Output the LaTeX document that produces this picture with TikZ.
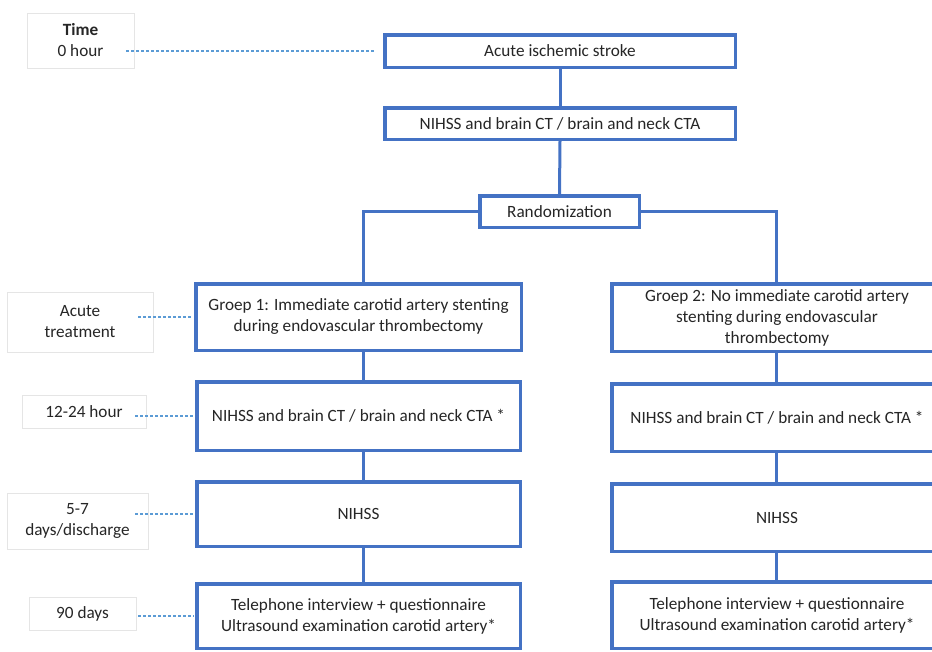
\documentclass[tikz,border=0pt]{standalone}
\usepackage{fontspec}
\setmainfont{Carlito}
\begin{document}
\begin{tikzpicture}[x=1pt,y=-1pt,
  every node/.style={inner sep=0pt, align=center, font=\fontsize{17.2}{21}\selectfont, text=black!85},
  bx/.style={draw=bblue, line width=3.5pt, fill=white, rectangle},
  tbox/.style={draw=black!10, line width=0.6pt, fill=white, rectangle},
  link/.style={draw=bblue, line width=3pt},
  tl/.style={draw=lblue, line width=1.2pt, dash pattern=on 3pt off 2pt}]
\definecolor{bblue}{RGB}{68,114,196}
\definecolor{lblue}{RGB}{91,155,213}
\useasboundingbox (0,0) rectangle (932,651);
\begin{scope}
\clip (0,0) rectangle (932,651);
% main flow boxes
\node[bx, minimum width=350.5pt, minimum height=32.5pt] (stroke) at (560,51) {Acute ischemic stroke};
\node[bx, minimum width=350.5pt, minimum height=31.5pt] (n0) at (560,123.5) {NIHSS and brain CT / brain and neck CTA};
\node[bx, minimum width=159.5pt, minimum height=31.5pt] (rand) at (559.5,211.5) {Randomization};
% left column
\node[bx, minimum width=325.5pt, minimum height=66.5pt] (g1) at (358.5,317) {Groep 1: Immediate carotid artery stenting\\during endovascular thrombectomy};
\node[bx, minimum width=323.5pt, minimum height=68.5pt] (n1) at (358.5,416) {NIHSS and brain CT / brain and neck CTA *};
\node[bx, minimum width=323.5pt, minimum height=64.5pt] (d1) at (358.5,514) {NIHSS};
\node[bx, minimum width=323.5pt, minimum height=64.5pt] (t1) at (358.5,616) {Telephone interview + questionnaire\\Ultrasound examination carotid artery*};
% right column
\node[bx, minimum width=330.5pt, minimum height=67.5pt] (g2) at (777,317.5) {Groep 2: No immediate carotid artery\\stenting during endovascular\\thrombectomy};
\node[bx, minimum width=330.5pt, minimum height=67.5pt] (n2) at (777,417.5) {NIHSS and brain CT / brain and neck CTA *};
\node[bx, minimum width=330.5pt, minimum height=67.5pt] (d2) at (777,517.5) {NIHSS};
\node[bx, minimum width=330.5pt, minimum height=66.5pt] (t2) at (777,615) {Telephone interview + questionnaire\\Ultrasound examination carotid artery*};
\end{scope}
% connector columns
\coordinate (lx) at (363,0);
\coordinate (rx) at (776,0);
% connectors
\draw[link] (stroke.south) -- (n0.north);
\draw[link] (n0.south) -- (rand.north);
\draw[link] (rand.west) -| (g1.north -| lx);
\draw[link] (rand.east) -| (g2.north -| rx);
\draw[link] (g1.south -| lx) -- (n1.north -| lx);
\draw[link] (n1.south -| lx) -- (d1.north -| lx);
\draw[link] (d1.south -| lx) -- (t1.north -| lx);
\draw[link] (g2.south -| rx) -- (n2.north -| rx);
\draw[link] (n2.south -| rx) -- (d2.north -| rx);
\draw[link] (d2.south -| rx) -- (t2.north -| rx);
% timeline labels
\node[tbox, minimum width=107pt, minimum height=55pt] (time) at (80.5,40.5) {\textbf{Time}\\0 hour};
\node[tbox, minimum width=146pt, minimum height=60pt] (acute) at (80,322) {Acute\\treatment};
\node[tbox, minimum width=124pt, minimum height=33pt] (h12) at (84,411.5) {12-24 hour};
\node[tbox, minimum width=141pt, minimum height=56pt] (d57) at (77.5,521) {5-7\\days/discharge};
\node[tbox, minimum width=107pt, minimum height=33pt] (d90) at (82.5,613.5) {90 days};
% dashed timeline links
\draw[tl] ([xshift=-8pt]time.east |- stroke.west) -- ([xshift=-8pt]stroke.west);
\draw[tl] ([xshift=-15pt]acute.east |- g1.west) -- ([xshift=-1pt]g1.west);
\draw[tl] ([xshift=-11pt]h12.east |- n1.west) -- ([xshift=-1pt]n1.west);
\draw[tl] ([xshift=-13pt]d57.east |- d1.west) -- ([xshift=-1pt]d1.west);
\draw[tl] ([xshift=2pt]d90.east |- t1.west) -- ([xshift=-1pt]t1.west);
\end{tikzpicture}
\end{document}
